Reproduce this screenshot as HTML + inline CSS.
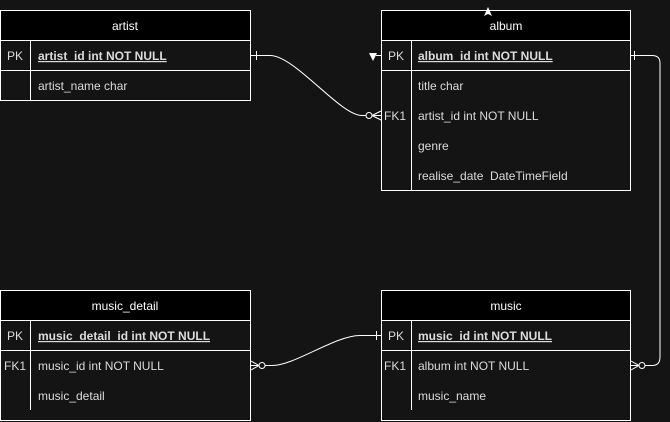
<!DOCTYPE html>
<html><head><meta charset="utf-8"><style>
html,body{margin:0;padding:0;background:#141414;}
svg{display:block;}
text{font-family:"Liberation Sans",Arial,sans-serif;font-size:12px;fill:#dcdcdc;}
.h{fill:#fff;text-anchor:middle;}
.u{text-decoration:underline;}
</style></head><body>
<svg width="670" height="422" viewBox="0 0 670 422" xmlns="http://www.w3.org/2000/svg">
<rect width="670" height="422" fill="#141414"/>
<g stroke="#fff" stroke-width="1" fill="none">
<rect x="0.5" y="10.5" width="250" height="90" fill="#141414"/>
<rect x="0.5" y="10.5" width="250" height="30" fill="#000"/>
<line x1="0.5" y1="70.5" x2="250.5" y2="70.5"/>
<line x1="30.5" y1="40.5" x2="30.5" y2="100.5"/>
<rect x="381.5" y="10.5" width="249" height="180" fill="#141414"/>
<rect x="381.5" y="10.5" width="249" height="30" fill="#000"/>
<line x1="381.5" y1="70.5" x2="630.5" y2="70.5"/>
<line x1="411.5" y1="40.5" x2="411.5" y2="190.5"/>
<rect x="0.5" y="290.5" width="250" height="130" fill="#141414"/>
<rect x="0.5" y="290.5" width="250" height="30" fill="#000"/>
<line x1="0.5" y1="350.5" x2="250.5" y2="350.5"/>
<line x1="30.5" y1="320.5" x2="30.5" y2="410"/>
<rect x="381.5" y="290.5" width="249" height="130" fill="#141414"/>
<rect x="381.5" y="290.5" width="249" height="30" fill="#000"/>
<line x1="381.5" y1="350.5" x2="630.5" y2="350.5"/>
<line x1="411.5" y1="320.5" x2="411.5" y2="410"/>
<path d="M251 55.5 H270 C295 55.5 340 115.5 362 115.5 H366"/>
<line x1="256.5" y1="51" x2="256.5" y2="60"/>
<circle cx="369" cy="115.5" r="3"/>
<path d="M372 115.5 L381 111 M372 115.5 L381 120 M372 115.5 H381"/>
<path d="M631 55.5 H652 Q660 55.5 660 63 V357 Q660 365.5 652 365.5 H645"/>
<line x1="634.5" y1="51" x2="634.5" y2="60"/>
<circle cx="642" cy="365.5" r="3"/>
<path d="M639 365.5 L631 361 M639 365.5 L631 370 M639 365.5 H631"/>
<path d="M381 335.5 H360 C335 335.5 295 365.5 272 365.5 H265"/>
<line x1="376.5" y1="331" x2="376.5" y2="340"/>
<circle cx="262" cy="365.5" r="3"/>
<path d="M259 365.5 L251 361 M259 365.5 L251 370 M259 365.5 H251"/>
</g>
<path d="M484 16 L488 7 L492 16 L488 14Z" fill="#fff"/>
<path d="M369 53 L377 53 L373 61 Z" fill="#fff"/>
<path d="M376 55.5 H381" stroke="#fff"/>
<text class="h" x="125" y="30">artist</text>
<text x="7" y="60">PK</text><text x="38" y="60" class="u" font-weight="bold">artist_id int NOT NULL</text>
<text x="38" y="90">artist_name char</text>
<text class="h" x="506" y="30">album</text>
<text x="388" y="60">PK</text><text x="418" y="60" class="u" font-weight="bold">album_id int NOT NULL</text>
<text x="418" y="90">title char</text>
<text x="384" y="120">FK1</text><text x="418" y="120">artist_id int NOT NULL</text>
<text x="418" y="150">genre</text>
<text x="418" y="180" xml:space="preserve">realise_date  DateTimeField</text>
<text class="h" x="125" y="310">music_detail</text>
<text x="7" y="340">PK</text><text x="38" y="340" class="u" font-weight="bold">music_detail_id int NOT NULL</text>
<text x="4" y="370">FK1</text><text x="38" y="370">music_id int NOT NULL</text>
<text x="38" y="400">music_detail</text>
<text class="h" x="506" y="310">music</text>
<text x="388" y="340">PK</text><text x="418" y="340" class="u" font-weight="bold">music_id int NOT NULL</text>
<text x="384" y="370">FK1</text><text x="418" y="370">album int NOT NULL</text>
<text x="418" y="400">music_name</text>
</svg>
</body></html>
